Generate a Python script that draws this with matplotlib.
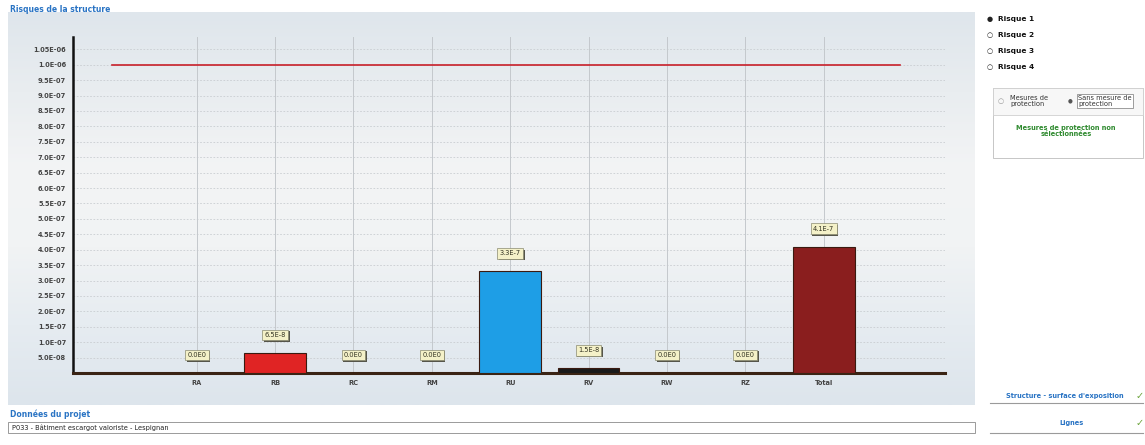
import numpy as np
import matplotlib
matplotlib.use("Agg")
import matplotlib.pyplot as plt
from matplotlib.patches import Rectangle
from matplotlib.colors import LinearSegmentedColormap

# data
categories = ["RA", "RB", "RC", "RM", "RU", "RV", "RW", "RZ", "Total"]
risk_values = [0.0, 6.5e-8, 0.0, 0.0, 3.3e-7, 1.5e-8, 0.0, 0.0, 4.1e-7]
value_labels = ["0.0E0", "6.5E-8", "0.0E0", "0.0E0", "3.3E-7", "1.5E-8", "0.0E0", "0.0E0", "4.1E-7"]
bar_colors = ["#e02424", "#e02424", "#e02424", "#e02424", "#1e9ee6", "#1a1a1a", "#7a1a1a", "#7a1a1a", "#8a1e1e"]
tolerable_risk = 1.0e-6
ytick_values = [5e-8 * k for k in range(1, 22)]
ytick_labels = ["5.0E-08", "1.0E-07", "1.5E-07", "2.0E-07", "2.5E-07", "3.0E-07", "3.5E-07",
                "4.0E-07", "4.5E-07", "5.0E-07", "5.5E-07", "6.0E-07", "6.5E-07", "7.0E-07",
                "7.5E-07", "8.0E-07", "8.5E-07", "9.0E-07", "9.5E-07", "1.0E-06", "1.05E-06"]
risk_options = ["Risque 1", "Risque 2", "Risque 3", "Risque 4"]

W, H = 1145, 445
fig = plt.figure(figsize=(W / 100, H / 100), dpi=100)
fig.patch.set_facecolor("white")

def px_axes(x0, y0, x1, y1, **kw):
    return fig.add_axes([x0 / W, 1 - y1 / H, (x1 - x0) / W, (y1 - y0) / H], **kw)

# background panel with soft gradient
bg = px_axes(8, 12, 975, 405)
cmap = LinearSegmentedColormap.from_list("bg", ["#dfe6ec", "#e9edf0", "#f3f4f5", "#f1f3f4", "#e6ecf1", "#dde5ec"])
bg.imshow(np.linspace(0, 1, 200).reshape(-1, 1), aspect="auto", cmap=cmap, extent=(0, 1, 0, 1))
bg.set_axis_off()

fig.text(10 / W, 1 - 10 / H, "Risques de la structure", color="#2a74c4", fontsize=5.5,
         fontweight="bold", va="center", ha="left")

# main chart
ax = px_axes(73, 37, 945, 373)
ax.set_facecolor("none")
x = np.arange(len(categories))
ax.set_xlim(-1.58, 9.55)
ax.set_ylim(0, 1.09e-6)

for yv in ytick_values:
    ax.axhline(yv, color="#c9cdd1", lw=0.6, ls=(0, (2, 2)), zorder=0)
for xv in x:
    ax.axvline(xv, color="#c4c8cc", lw=0.7, zorder=0)

ax.bar(x, risk_values, width=0.79, color=bar_colors, edgecolor="#3a1a10", lw=0.8, zorder=3)
ax.plot([-1.08, 8.98], [tolerable_risk, tolerable_risk], color="#c8202a", lw=1.2, zorder=4)

for xi, v, lab in zip(x, risk_values, value_labels):
    # small shadow behind each label box
    ax.annotate(lab, (xi, v), xytext=(1.2, 11.8), textcoords="offset points", ha="center",
                va="center", fontsize=4.8, color="none", zorder=5,
                bbox=dict(boxstyle="square,pad=0.35", fc="#55554a", ec="none"))
    ax.annotate(lab, (xi, v), xytext=(0, 13), textcoords="offset points", ha="center",
                va="center", fontsize=4.8, color="#333322", zorder=6,
                bbox=dict(boxstyle="square,pad=0.35", fc="#f4f1c8", ec="#8a8a70", lw=0.5))

ax.set_yticks(ytick_values)
ax.set_yticklabels(ytick_labels, fontsize=4.8, color="#444444", fontweight="bold")
ax.set_xticks(x)
ax.set_xticklabels(categories, fontsize=4.8, color="#444444", fontweight="bold")
ax.tick_params(length=0, pad=5)
for s in ["top", "right"]:
    ax.spines[s].set_visible(False)
ax.spines["left"].set_color("#111111")
ax.spines["left"].set_linewidth(1.8)
ax.spines["bottom"].set_color("#3a2414")
ax.spines["bottom"].set_linewidth(2.2)

# project info at bottom left
fig.text(10 / W, 1 - 414 / H, "Données du projet", color="#2a74c4", fontsize=5.5,
         fontweight="bold", va="center")
fig.patches.append(Rectangle((8 / W, 1 - 433 / H), 967 / W, 11 / H, transform=fig.transFigure,
                             fc="white", ec="#8a8a8a", lw=0.6))
fig.text(12 / W, 1 - 427.5 / H, "P033 - Bâtiment escargot valoriste - Lespignan", fontsize=4.8,
         color="#222222", va="center")

# right side controls
for i, name in enumerate(risk_options):
    yy = 19 + 16 * i
    fig.text(990 / W, 1 - yy / H, "●" if i == 0 else "○", fontsize=5, color="#222222",
             va="center", ha="center")
    fig.text(998 / W, 1 - yy / H, name, fontsize=5.3, color="#111111", fontweight="bold",
             va="center")

fig.patches.append(Rectangle((993 / W, 1 - 158 / H), 150 / W, 70 / H, transform=fig.transFigure,
                             fc="white", ec="#bdbdbd", lw=0.6))
fig.patches.append(Rectangle((993 / W, 1 - 115 / H), 150 / W, 27 / H, transform=fig.transFigure,
                             fc="#f7f7f7", ec="#cfcfcf", lw=0.6))
fig.text(998 / W, 1 - 101 / H, "○", fontsize=5, color="#999999", va="center")
fig.text(1010 / W, 1 - 101 / H, "Mesures de\nprotection", fontsize=4.8, color="#333333",
         va="center", linespacing=0.9)
fig.text(1068 / W, 1 - 101 / H, "●", fontsize=4, color="#555555", va="center")
fig.text(1078 / W, 1 - 101 / H, "Sans mesure de\nprotection", fontsize=4.8, color="#333333",
         va="center", linespacing=0.9,
         bbox=dict(boxstyle="square,pad=0.2", fc="white", ec="#777777", lw=0.5))
fig.text(1066 / W, 1 - 131 / H, "Mesures de protection non\nsélectionnées", fontsize=4.8,
         color="#2f8a2f", fontweight="bold", va="center", ha="center", linespacing=1.0)

fig.text(1065 / W, 1 - 396 / H, "Structure - surface d'exposition", fontsize=4.8,
         color="#2a74c4", fontweight="bold", va="center", ha="center")
fig.text(1140 / W, 1 - 396 / H, "✓", fontsize=7, color="#6aa33a", va="center", ha="center")
fig.lines.append(plt.Line2D([990 / W, 1143 / W], [1 - 403 / H, 1 - 403 / H],
                            transform=fig.transFigure, color="#9a9a9a", lw=0.8))
fig.text(1072 / W, 1 - 423 / H, "Lignes", fontsize=4.8, color="#2a74c4", fontweight="bold",
         va="center", ha="center")
fig.text(1140 / W, 1 - 423 / H, "✓", fontsize=7, color="#6aa33a", va="center", ha="center")
fig.lines.append(plt.Line2D([990 / W, 1143 / W], [1 - 433 / H, 1 - 433 / H],
                            transform=fig.transFigure, color="#9a9a9a", lw=0.8))

fig.savefig("out.png", dpi=100)
